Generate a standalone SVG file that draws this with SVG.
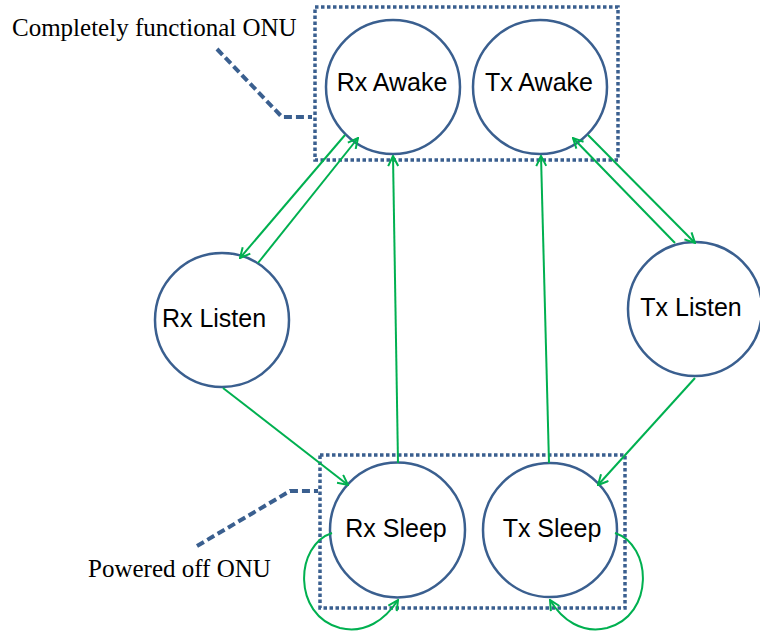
<svg xmlns="http://www.w3.org/2000/svg" width="760" height="632" viewBox="0 0 760 632">
<defs>
<style>
.node circle{fill:#fff;stroke:#3A5F8F;stroke-width:2.5}
.node text{font-family:"Liberation Sans",Arial,sans-serif;font-size:25px;fill:#000;text-anchor:middle}
.box{fill:none;stroke:#3A5F8F;stroke-width:3.5;stroke-dasharray:3.5 2.5}
.callout{fill:none;stroke:#3A5F8F;stroke-width:4;stroke-dasharray:8 4}
.lbl{font-family:"Liberation Serif","Times New Roman",serif;font-size:25px;fill:#000}
.conn{fill:none;stroke:#00B050;stroke-width:2;marker-end:url(#arr)}
</style>
<marker id="arr" viewBox="0 0 12 12" refX="11" refY="6" markerWidth="12" markerHeight="12" markerUnits="userSpaceOnUse" orient="auto">
<path d="M1,1 L11,6 L1,11" fill="none" stroke="#00B050" stroke-width="2"/>
</marker>
</defs>
<rect width="760" height="632" fill="#fff"/>
<g id="groups">
<rect class="box" x="315" y="7" width="303" height="153"/>
<rect class="box" x="320" y="455" width="305" height="153"/>
<polyline class="callout" points="217,49 282,117 312,117"/>
<polyline class="callout" points="197,546 290,491 318,491"/>
<text class="lbl" x="12" y="36">Completely functional ONU</text>
<text class="lbl" x="88" y="577">Powered off ONU</text>
</g>
<g id="rx-awake" class="node"><circle cx="393" cy="87" r="67"/><text x="392" y="91">Rx Awake</text></g>
<g id="tx-awake" class="node"><circle cx="540" cy="87" r="67"/><text x="539" y="91">Tx Awake</text></g>
<g id="rx-listen" class="node"><circle cx="222" cy="320" r="67"/><text x="214" y="327">Rx Listen</text></g>
<g id="tx-listen" class="node"><circle cx="695" cy="309" r="67"/><text x="691" y="316">Tx Listen</text></g>
<g id="rx-sleep" class="node"><circle cx="397.5" cy="530" r="67.5"/><text x="396" y="537">Rx Sleep</text></g>
<g id="tx-sleep" class="node"><circle cx="550" cy="530" r="67"/><text x="552" y="537">Tx Sleep</text></g>
<g id="connectors">
<line class="conn" x1="345" y1="135" x2="240" y2="258"/>
<line class="conn" x1="258" y1="263" x2="358" y2="138"/>
<line class="conn" x1="588" y1="135" x2="695" y2="243"/>
<line class="conn" x1="675" y1="243" x2="573" y2="138"/>
<line class="conn" x1="398" y1="463" x2="393" y2="156"/>
<line class="conn" x1="549" y1="463" x2="541" y2="156"/>
<line class="conn" x1="223" y1="388" x2="348" y2="485"/>
<line class="conn" x1="695" y1="378" x2="598" y2="485"/>
<path class="conn" d="M332,533 C295,545 292,615 340,628 C365,634 385,620 398,600"/>
<path class="conn" d="M615,533 C652,545 655,615 607,628 C582,634 562,620 550,600"/>
</g>
</svg>
